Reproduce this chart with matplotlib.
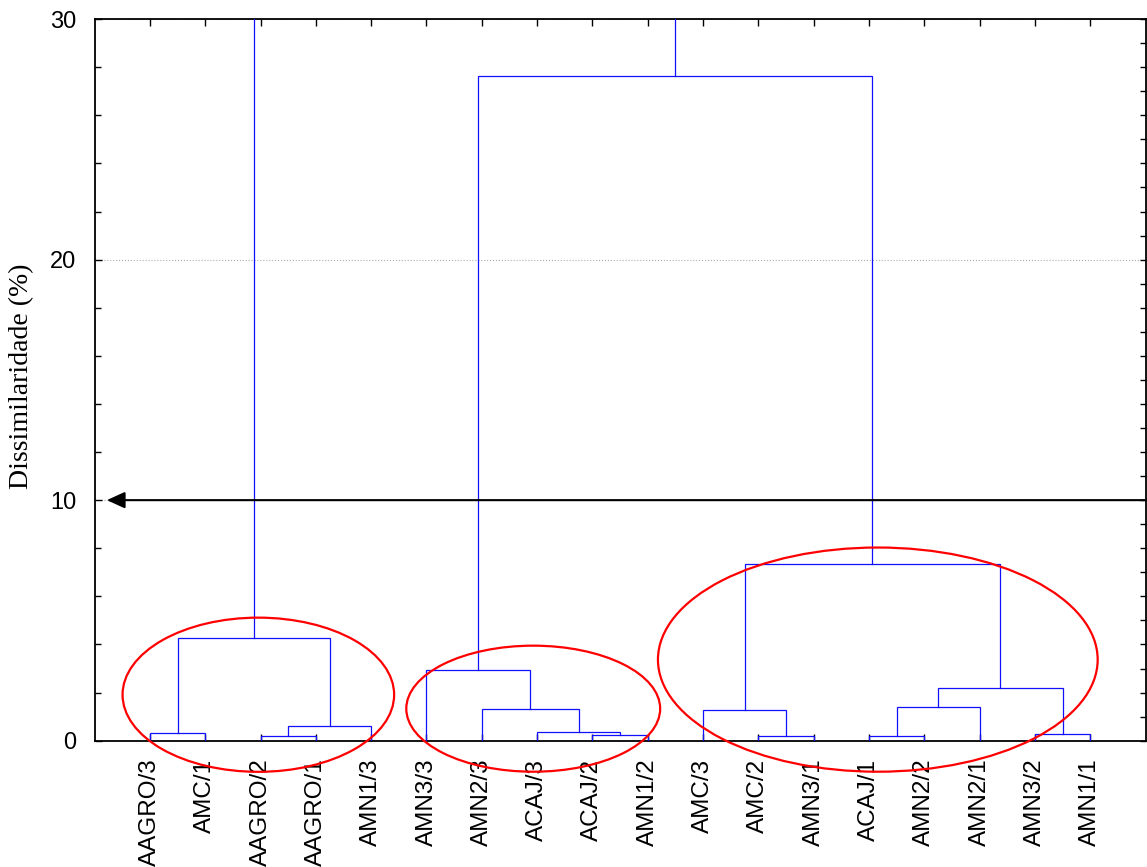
import matplotlib
matplotlib.use("Agg")
import matplotlib.pyplot as plt
from matplotlib.patches import Ellipse
from matplotlib.ticker import MultipleLocator

# ---- data ----
labels = ["AAGRO/3", "AMC/1", "AAGRO/2", "AAGRO/1", "AMN1/3",
          "AMN3/3", "AMN2/3", "ACAJ/3", "ACAJ/2", "AMN1/2",
          "AMC/3", "AMC/2", "AMN3/1", "ACAJ/1", "AMN2/2",
          "AMN2/1", "AMN3/2", "AMN1/1"]
# merges: (node a, node b, height); new nodes numbered from len(labels)
merge_a = [2, 11, 13, 8, 16, 0, 7, 18, 10, 6, 20, 28, 5, 23, 26, 30, 31]
merge_b = [3, 12, 14, 9, 17, 1, 21, 4, 19, 24, 15, 22, 27, 25, 29, 32, 33]
merge_h = [0.18, 0.18, 0.18, 0.25, 0.26, 0.31, 0.37, 0.60, 1.26, 1.33,
           1.40, 2.21, 2.93, 4.27, 7.35, 27.62, 40.0]
cut_level = 10
# cluster ellipses (centre x, centre y, width, height) in data units
ell_cx = [2.96, 7.93, 14.16]
ell_cy = [1.91, 1.33, 3.37]
ell_w = [4.91, 4.59, 7.95]
ell_h = [6.41, 5.24, 9.32]

fig = plt.figure(figsize=(11.47, 8.67), dpi=100)
ax = fig.add_axes([0.0825, 0.1457, 0.9162, 0.8323])

n = len(labels)
pos = {i: i + 1 for i in range(n)}
hgt = {i: 0.0 for i in range(n)}
blue = "#1010ff"
for k, (a, b, h) in enumerate(zip(merge_a, merge_b, merge_h)):
    xa, xb = pos[a], pos[b]
    ax.plot([xa, xa, xb, xb], [hgt[a], h, h, hgt[b]], color=blue, lw=0.9,
            solid_joinstyle="miter", zorder=3)
    pos[n + k] = (xa + xb) / 2
    hgt[n + k] = h

for cx, cy, w, h in zip(ell_cx, ell_cy, ell_w, ell_h):
    ax.add_patch(Ellipse((cx, cy), w, h, fill=False, edgecolor="#ff0000",
                         lw=1.6, clip_on=False, zorder=4))

ax.set_xlim(0, 19)
ax.set_ylim(0, 30)

ax.annotate("", xy=(0.22, cut_level), xytext=(19, cut_level),
            arrowprops=dict(arrowstyle="-|>,head_length=1.1,head_width=0.5",
                            mutation_scale=10, color="black", lw=1.5,
                            shrinkA=0, shrinkB=0), zorder=5)

ax.set_xticks(range(1, n + 1))
ax.set_xticklabels(labels, rotation=90, fontsize=17.5,
                   fontfamily="Liberation Sans", va="top", ha="center")
ax.yaxis.set_major_locator(MultipleLocator(10))
ax.yaxis.set_minor_locator(MultipleLocator(2))
for t in ax.get_yticklabels():
    t.set_fontfamily("Liberation Sans")
ax.tick_params(axis="y", which="major", labelsize=17, direction="in",
               length=5, width=1, pad=13, right=False)
ax.tick_params(axis="y", which="minor", direction="in", length=4, width=1,
               right=False)
ax.tick_params(axis="x", direction="in", length=5, width=1, top=True,
               pad=13)
ax.grid(axis="y", which="major", linestyle=":", color="#aaaaaa", lw=0.8)
ax.set_axisbelow(True)

for s in ax.spines.values():
    s.set_linewidth(1.3)

tw = ax.twinx()
tw.set_ylim(0, 30)
tw.yaxis.set_major_locator(MultipleLocator(1))
tw.tick_params(axis="y", direction="in", length=4, width=1, labelright=False)
for s in tw.spines.values():
    s.set_visible(False)

fig.text(22 / 1147, 1 - 376.5 / 867, "Dissimilaridade (%)", rotation=90,
         ha="center", va="center", fontsize=20, fontfamily="Liberation Serif")

fig.savefig("out.png", dpi=100)
